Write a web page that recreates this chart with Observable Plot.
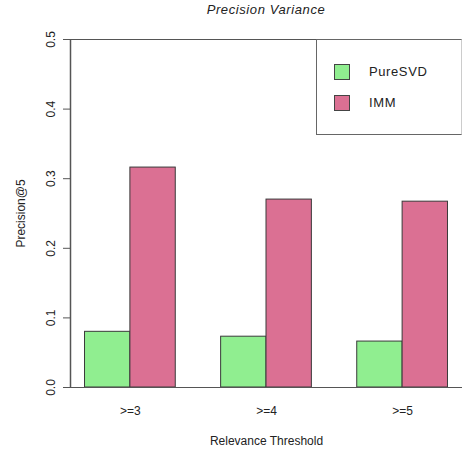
<!DOCTYPE html>
<html><head><meta charset="utf-8">
<script src="https://cdn.jsdelivr.net/npm/d3@7"></script>
<script src="https://cdn.jsdelivr.net/npm/@observablehq/plot@0.6"></script>
<style>
body{margin:0;background:#fff;font-family:"Liberation Sans",Arial,sans-serif;}
#wrap{position:relative;width:462px;height:452px;}
#title{position:absolute;left:70px;width:392px;top:2px;text-align:center;font-style:italic;font-size:13px;letter-spacing:0.6px;color:#222;}
#legend{position:absolute;left:316px;top:39px;width:146px;height:96px;border:1px solid #666;border-right:1px solid #ccc;box-sizing:border-box;background:#fff;}
.item{position:absolute;left:17px;font-size:13px;letter-spacing:0.6px;color:#222;}
.sw{position:absolute;width:16px;height:16px;box-sizing:border-box;border:1px solid #444;}
.lab{position:absolute;left:35px;top:0px;line-height:16px;white-space:nowrap;}
</style>
</head><body>
<div id="wrap">
  <div id="title">Precision Variance</div>
  <div id="chart"></div>
  <div id="legend"></div>
</div>
<script>
const categories = [">=3", ">=4", ">=5"];
const series = ["PureSVD", "IMM"];
const pureSVD = [0.080, 0.073, 0.066];
const imm = [0.316, 0.270, 0.267];
const colors = ["#90EE90", "#DB7093"];
const yTicks = [0, 0.1, 0.2, 0.3, 0.4, 0.5];

const values = [pureSVD, imm];
// R barplot(beside=TRUE) layout: bar width 1, one unit gap between groups
const nS = series.length;
const rows = [];
categories.forEach((c, g) => {
  series.forEach((s, k) => {
    const x1 = 1 + g * (nS + 1) + k;
    rows.push({category: c, series: s, value: values[k][g], x1, x2: x1 + 1});
  });
});
const xmin = d3.min(rows, d => d.x1), xmax = d3.max(rows, d => d.x2);
const pad = 0.04 * (xmax - xmin);
const centers = categories.map((c, g) => 1 + g * (nS + 1) + nS / 2);

const chart = Plot.plot({
  width: 462, height: 452,
  marginLeft: 70, marginRight: 0, marginTop: 39, marginBottom: 65,
  style: {fontFamily: "'Liberation Sans', Arial, sans-serif", fontSize: "12px", color: "#222", background: "#fff"},
  x: {domain: [xmin - pad, xmax + pad], axis: null},
  y: {domain: [0, 0.5]},
  color: {domain: series, range: colors},
  marks: [
    Plot.axisY(yTicks, {tickSize: 7, tickPadding: 9, tickRotate: -90, tickFormat: d3.format(".1f"), stroke: "#555",
      label: "Precision@5", labelAnchor: "center", labelArrow: "none", labelOffset: 54}),
    Plot.axisX(centers, {tickSize: 0, tickPadding: 19, tickFormat: d => categories[centers.indexOf(d)],
      label: "Relevance Threshold", labelAnchor: "center", labelArrow: "none", labelOffset: 57}),
    Plot.rectY(rows, {x1: "x1", x2: "x2", y: "value", fill: "series", stroke: "#3a3a3a", strokeWidth: 1}),
    Plot.ruleX([xmin - pad], {y1: 0, y2: 0.5, stroke: "#555", strokeWidth: 1.5}),
    Plot.ruleY([0, 0.5], {stroke: "#555", strokeWidth: 1.2})
  ]
});
document.getElementById("chart").appendChild(chart);

const legend = document.getElementById("legend");
series.forEach((s, i) => {
  const item = document.createElement("div");
  item.className = "item";
  item.style.top = (24 + i * 31) + "px";
  item.innerHTML = `<div class="sw" style="background:${colors[i]}"></div><div class="lab">${s}</div>`;
  legend.appendChild(item);
});
</script>
</body></html>
